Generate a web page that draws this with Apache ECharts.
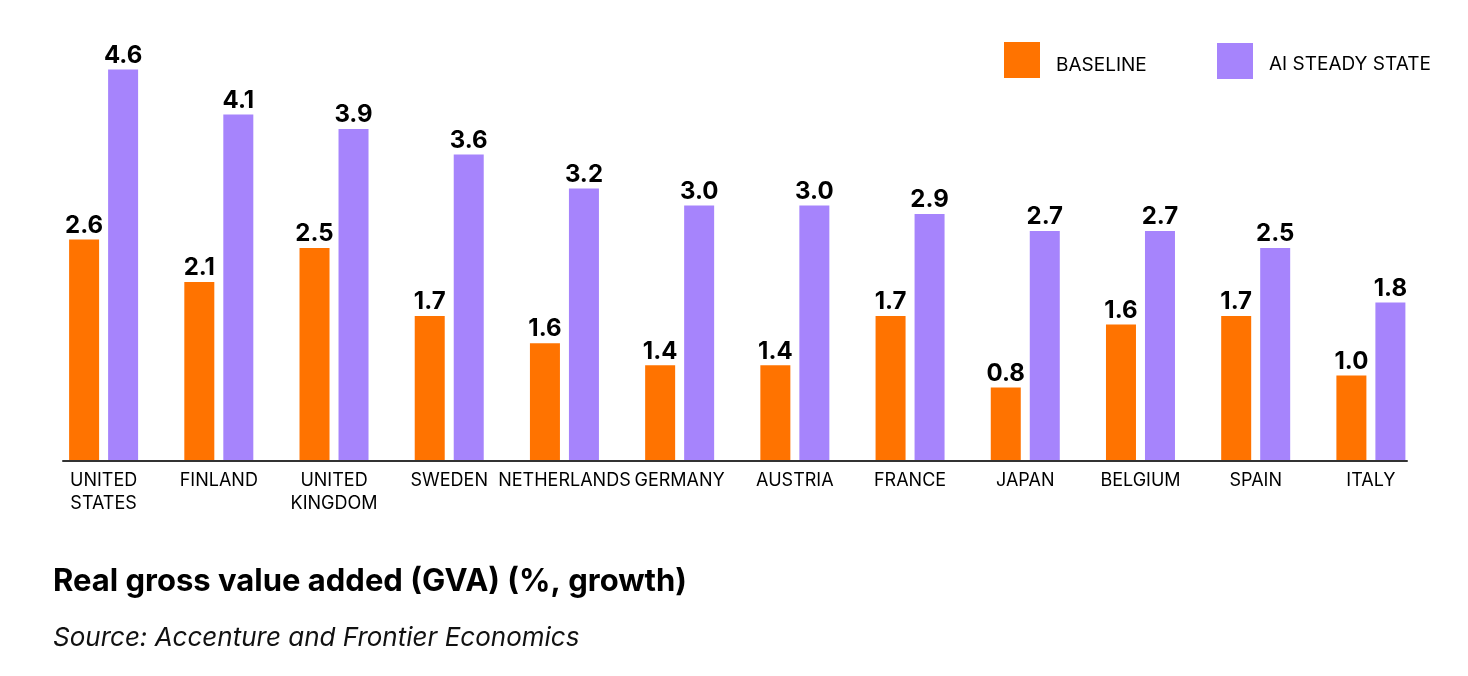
<!DOCTYPE html>
<html><head><meta charset="utf-8">
<script src="https://cdn.jsdelivr.net/npm/echarts@6/dist/echarts.min.js"></script>
<style>html,body{margin:0;padding:0;background:#fff}#c{width:1468px;height:676px}</style>
</head><body><div id="c"></div>
<script>
// ---- data ----
const categories = ['UNITED\nSTATES','FINLAND','UNITED\nKINGDOM','SWEDEN','NETHERLANDS','GERMANY','AUSTRIA','FRANCE','JAPAN','BELGIUM','SPAIN','ITALY'];
const seriesNames = ['BASELINE','AI STEADY STATE'];
// printed value labels
const baselineLabels = ['2.6','2.1','2.5','1.7','1.6','1.4','1.4','1.7','0.8','1.6','1.7','1.0'];
const aiLabels = ['4.6','4.1','3.9','3.6','3.2','3.0','3.0','2.9','2.7','2.7','2.5','1.8'];
// bar lengths as drawn in the picture (a few drawn bars differ from their printed labels)
const baselineValues = [2.6,2.1,2.5,1.7,1.38,1.12,1.12,1.7,0.86,1.6,1.7,1.0];
const aiValues = [4.6,4.07,3.9,3.6,3.2,3.0,3.0,2.9,2.7,2.7,2.5,1.86];
const titleText = 'Real gross value added (GVA) (%, growth)';
const sourceText = 'Source: Accenture and Frontier Economics';

const FONT = 'Inter, Roboto, "Liberation Sans", sans-serif';
const ORANGE = '#FF7300';
const PURPLE = '#A684FC';

const chart = echarts.init(document.getElementById('c'), null, {renderer:'canvas'});
const valueLabel = (arr) => ({
  show: true, position: 'top', distance: 2,
  formatter: p => arr[p.dataIndex],
  fontFamily: FONT, fontSize: 24, fontWeight: 'bold', color: '#000'
});
const legendText = (padTop) => ({
  formatter: name => '{t|' + name + '}',
  textStyle: {rich: {t: {fontFamily: FONT, fontSize: 19, color: '#000', padding: [padTop, 0, 0, 11]}}}
});
chart.setOption({
  animation: false,
  backgroundColor: '#fff',
  title: [
    {text: titleText, left: 53, top: 566, padding: 0,
     textStyle: {fontFamily: FONT, fontSize: 31, fontWeight: 'bold', color: '#000'}},
    {text: sourceText, left: 53, top: 625, padding: 0,
     textStyle: {fontFamily: FONT, fontSize: 26, fontWeight: 'normal', fontStyle: 'italic', color: '#111'}}
  ],
  legend: [
    Object.assign({data: [seriesNames[0]], left: 1004, top: 42, padding: 0, icon: 'rect', itemWidth: 36, itemHeight: 36},
      legendText(10)),
    Object.assign({data: [seriesNames[1]], left: 1217, top: 43, padding: 0, icon: 'rect', itemWidth: 36, itemHeight: 36},
      legendText(6))
  ],
  grid: [
    {left: 46, right: 39.5, top: 35.5, bottom: 215.5},
    {left: 63, right: 61, top: 35.5, bottom: 215.5}
  ],
  xAxis: [
    {type: 'category', gridIndex: 0, data: categories,
     axisLine: {show: false}, axisTick: {show: false},
     axisLabel: {interval: 0, margin: 9, fontFamily: FONT, fontSize: 18, lineHeight: 23, color: '#000'}},
    {type: 'category', gridIndex: 1, data: [''],
     axisLine: {show: true, onZero: false, lineStyle: {color: '#333', width: 2}},
     axisTick: {show: false}, axisLabel: {show: false}, z: 5}
  ],
  yAxis: [
    {type: 'value', gridIndex: 0, min: 0, max: 5, show: false, splitLine: {show: false}},
    {type: 'value', gridIndex: 1, min: 0, max: 5, show: false, splitLine: {show: false}}
  ],
  series: [
    {name: seriesNames[0], type: 'bar', xAxisIndex: 0, yAxisIndex: 0, data: baselineValues,
     barWidth: 30, barGap: '30%', itemStyle: {color: ORANGE}, label: valueLabel(baselineLabels)},
    {name: seriesNames[1], type: 'bar', xAxisIndex: 0, yAxisIndex: 0, data: aiValues,
     barWidth: 30, barGap: '30%', itemStyle: {color: PURPLE}, label: valueLabel(aiLabels)}
  ]
});
</script></body></html>
